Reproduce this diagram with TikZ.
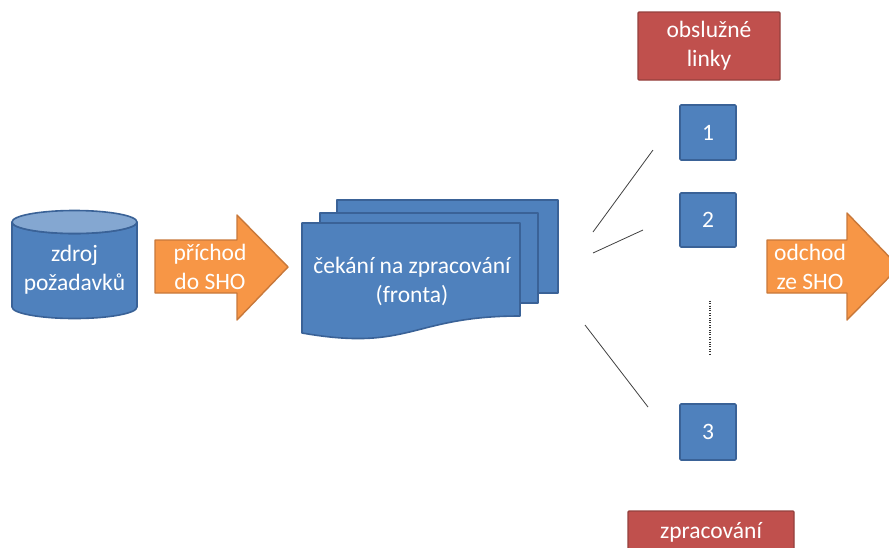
\documentclass[tikz,border=0pt]{standalone}
\usepackage{fontspec}
\setmainfont{Carlito}
\definecolor{qblue}{HTML}{4F81BD}
\definecolor{qblueline}{HTML}{3A6297}
\definecolor{qorange}{HTML}{F79646}
\definecolor{qorangeline}{HTML}{C8783A}
\definecolor{qred}{HTML}{C0504D}
\definecolor{qredline}{HTML}{94403D}
\tikzset{
  bluebody/.style={fill=qblue, draw=qblueline, line width=1.6pt, line join=round},
  orangebody/.style={fill=qorange, draw=qorangeline, line width=1.4pt, line join=round},
  redbox/.style={fill=qred, draw=qredline, line width=1.4pt, rounded corners=1pt},
  serverbox/.style={bluebody, rounded corners=1pt},
  lbl/.style={text=white, font=\fontsize{23.5}{29}\selectfont, align=center, inner sep=0pt},
  link/.style={draw=black!75, line width=0.8pt},
}
\begin{document}
\begin{tikzpicture}[x=1pt, y=-1pt]
\useasboundingbox (0,0) rectangle (889,547);
\clip (0,0) rectangle (889,547);

% source of requests: cylinder
\path[bluebody] (12,222) -- (12,307) arc[start angle=180, end angle=360, x radius=62.5, y radius=-11.5]
  -- (137,222) arc[start angle=0, end angle=180, x radius=62.5, y radius=11.5] -- cycle;
\path[bluebody, fill=qblue!70!white] (74.5,222) ellipse[x radius=62.5, y radius=11.5];
\node[lbl] (src) at (74.5,270) {zdroj\\požadavků};

% arrival arrow
\path[orangebody] (155,240) -- (237,240) -- (237,215) -- (288,267) -- (237,320) -- (237,293) -- (155,293) -- cycle;
\node[lbl] (arr) at (210,267) {příchod\\do SHO};

% queue: stacked documents
\path[bluebody] (337,200) rectangle (558,293);
\path[bluebody] (320,213) rectangle (538,303);
\path[bluebody] (302,223) -- (520,223) -- (520,316)
  .. controls (411,316) and (411,352) .. (302,333) -- cycle;
\node[lbl] (queue) at (412,281) {čekání na zpracování\\(fronta)};

% service lines
\node[redbox, minimum width=142pt, minimum height=68pt, lbl] (lines) at (709,46) {obslužné\\linky};
\node[serverbox, minimum width=56pt, minimum height=55pt, lbl] (s1) at (708,132.5) {1};
\node[serverbox, minimum width=56pt, minimum height=54pt, lbl] (s2) at (708,220) {2};
\node[serverbox, minimum width=56pt, minimum height=56pt, lbl] (s3) at (708,432) {3};
\draw[black!80, line width=1.6pt, dash pattern=on 1pt off 1.4pt] (s2.south) ++(2,53) coordinate (d1) -- ++(0,53) coordinate (d2);

% links from queue towards servers
\coordinate (a1) at (593,232); \coordinate (b1) at (653,150);
\coordinate (a2) at (593,253); \coordinate (b2) at (643,230);
\coordinate (a3) at (585,325); \coordinate (b3) at (648,407);
\draw[link] (a1) -- (b1);
\draw[link] (a2) -- (b2);
\draw[link] (a3) -- (b3);

% departure arrow
\path[orangebody] (767,240) -- (847,240) -- (847,213) -- (899,267) -- (847,320) -- (847,293) -- (767,293) -- cycle;
\node[lbl] (dep) at (810,267) {odchod\\ze SHO};

% processing label
\path[redbox] (628,511) rectangle (794,560);
\node[lbl] (proc) at (711,532) {zpracování};
\end{tikzpicture}
\end{document}
